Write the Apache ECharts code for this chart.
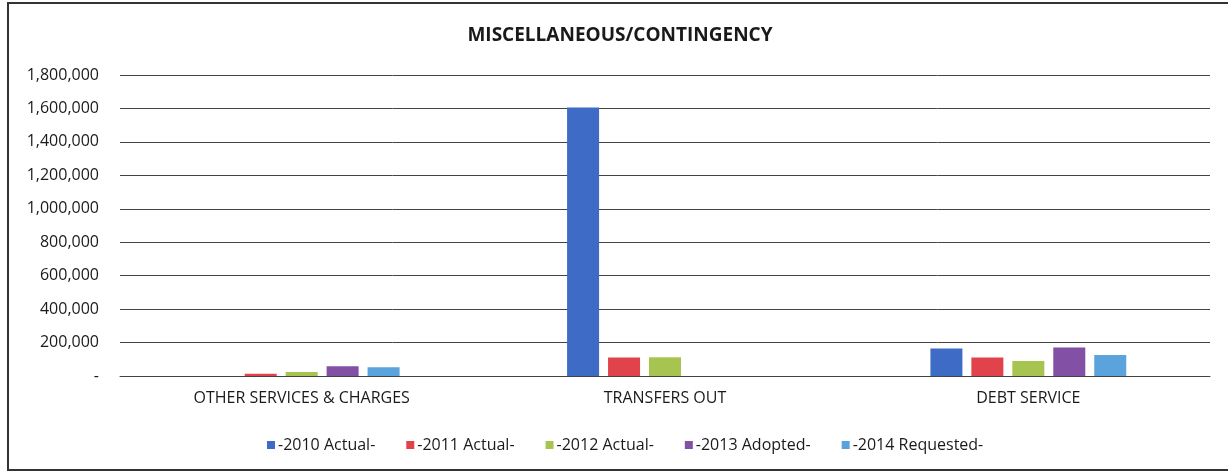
<!DOCTYPE html>
<html>
<head>
<meta charset="utf-8">
<script src="https://cdn.jsdelivr.net/npm/echarts@6/dist/echarts.min.js"></script>
<style>
  html, body { margin: 0; padding: 0; background: #fff; }
  #chart { width: 1228px; height: 474px; }
</style>
</head>
<body>
<div id="chart"></div>
<script>
// Spending categories and yearly amounts
const categories = ['OTHER SERVICES & CHARGES', 'TRANSFERS OUT', 'DEBT SERVICE'];
const seriesNames = ['-2010 Actual-', '-2011 Actual-', '-2012 Actual-', '-2013 Adopted-', '-2014 Requested-'];
const actual2010 = [0, 1605000, 165000];
const actual2011 = [14000, 110000, 111000];
const actual2012 = [24000, 112000, 89000];
const adopted2013 = [58000, 0, 170000];
const requested2014 = [52000, 0, 125000];
const yMin = 0, yMax = 1800000, yStep = 200000;

const colors = ['#3e6bc5', '#e0444a', '#a6c44f', '#8251a6', '#5aa3dc'];
const valueSets = [actual2010, actual2011, actual2012, adopted2013, requested2014];
const font = '"Open Sans", "Liberation Sans", sans-serif';

const chart = echarts.init(document.getElementById('chart'), null, { renderer: 'canvas' });

chart.setOption({
  animation: false,
  backgroundColor: '#ffffff',
  color: colors,
  title: {
    text: 'MISCELLANEOUS/CONTINGENCY',
    left: 615, top: 21,
    textAlign: 'center',
    textStyle: { fontFamily: font, fontWeight: 'bold', fontSize: 19, color: '#1a1a1a' }
  },
  legend: {
    data: seriesNames,
    left: 262, top: 432,
    icon: 'rect',
    itemWidth: 8, itemHeight: 8,
    itemGap: 31,
    textStyle: { fontFamily: font, fontSize: 16, color: '#1a1a1a', padding: [0, 0, 0, -2] }
  },
  grid: { left: 120, right: 18, top: 75, bottom: 98, containLabel: false },
  xAxis: {
    type: 'category',
    data: categories,
    axisLine: { show: true, lineStyle: { color: '#444', width: 1 } },
    axisTick: { show: false },
    axisLabel: { fontFamily: font, fontSize: 16, color: '#1a1a1a', margin: 14 }
  },
  yAxis: {
    type: 'value',
    min: yMin, max: yMax, interval: yStep,
    axisLine: { show: false },
    axisTick: { show: false },
    splitLine: { lineStyle: { color: '#444', width: 1 } },
    axisLabel: {
      fontFamily: font, fontSize: 16, color: '#1a1a1a', margin: 21,
      formatter: v => v === 0 ? '-' : v.toLocaleString('en-US')
    }
  },
  series: seriesNames.map((name, i) => ({
    name,
    type: 'bar',
    data: valueSets[i],
    barWidth: 32,
    barGap: '28%',
    itemStyle: { color: colors[i] }
  })),
  graphic: [{
    type: 'rect',
    shape: { x: 8, y: 3, width: 1240, height: 467 },
    style: { fill: 'none', stroke: '#333', lineWidth: 2 },
    silent: true
  }]
});
</script>
</body>
</html>
